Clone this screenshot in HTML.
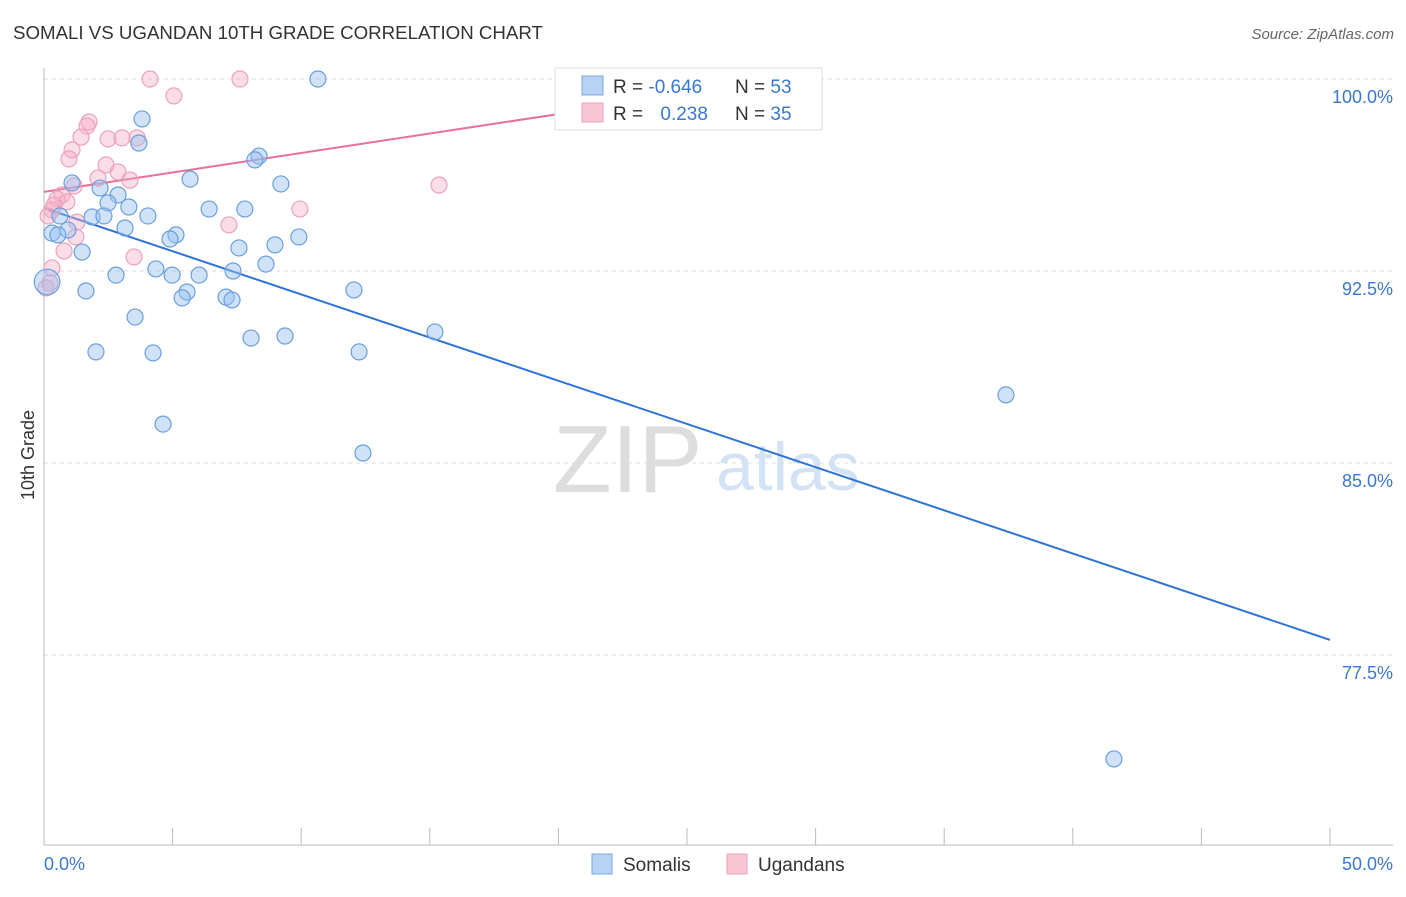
<!DOCTYPE html>
<html><head><meta charset="utf-8"><style>
body{margin:0;background:#fff;font-family:"Liberation Sans",sans-serif;}
svg text{font-family:"Liberation Sans",sans-serif;}
</style></head><body>
<svg id="chart" width="1406" height="892" viewBox="0 0 1406 892" xmlns="http://www.w3.org/2000/svg">
<text x="13" y="39" font-size="18.7" fill="#333">SOMALI VS UGANDAN 10TH GRADE CORRELATION CHART</text>
<text x="1394" y="39" font-size="15" fill="#666" text-anchor="end" font-style="italic">Source: ZipAtlas.com</text>
<g>
<text x="553" y="492" font-size="96" fill="#ddd" font-family="Liberation Serif">ZIP</text>
<text x="716" y="490" font-size="68" fill="#d4e2f5">atlas</text>
</g>
<g id="grid"></g>
<g id="axes"></g>
<g id="lines"></g>
<g id="points"></g>
<g>
<rect x="555" y="68" width="267" height="62" fill="#fff" stroke="#ddd"/>
<rect x="582" y="76" width="21" height="19" fill="#b8d2f3" stroke="#7aa8e3"/>
<rect x="582" y="103" width="21" height="19" fill="#f9c4d4" stroke="#eba3ba"/>
<text x="613" y="93" font-size="19" fill="#333">R = <tspan fill="#3a78d6">-0.646</tspan></text>
<text x="735" y="93" font-size="19" fill="#333">N = <tspan fill="#3a78d6">53</tspan></text>
<text x="613" y="120" font-size="19" fill="#333">R = <tspan fill="#3a78d6" dx="12">0.238</tspan></text>
<text x="735" y="120" font-size="19" fill="#333">N = <tspan fill="#3a78d6">35</tspan></text>
</g>
<g>
<rect x="592" y="854" width="20" height="20" fill="#b8d2f3" stroke="#7aa8e3"/>
<text x="623" y="871" font-size="19" fill="#333">Somalis</text>
<rect x="727" y="854" width="20" height="20" fill="#f9c4d4" stroke="#eba3ba"/>
<text x="758" y="871" font-size="19" fill="#333">Ugandans</text>
</g>
<text transform="translate(34,455) rotate(-90)" font-size="18" fill="#333" text-anchor="middle">10th Grade</text>
</svg>
<script>
const yTicks=[100,92.5,85,77.5];
const yTickLabels=["100.0%","92.5%","85.0%","77.5%"];
const xTickLabels=["0.0%","50.0%"];
const somaliX=[10.65,3.81,3.69,8.36,8.20,5.68,9.21,1.09,2.18,2.88,2.49,3.30,6.42,7.81,4.04,1.87,2.33,0.62,3.15,0.93,0.31,0.54,5.13,4.90,9.91,7.58,8.98,1.48,8.63,4.35,7.35,4.98,6.03,2.80,1.63,5.56,5.37,7.08,7.31,12.05,3.54,15.20,8.05,9.37,2.02,4.24,12.25,37.40,4.63,12.40,41.60,0.12];
const somaliY=[100.0,98.44,97.5,96.99,96.84,96.09,95.90,95.94,95.74,95.47,95.16,95.0,94.92,94.92,94.65,94.61,94.65,94.65,94.18,94.10,93.98,93.91,93.91,93.75,93.83,93.40,93.52,93.24,92.77,92.58,92.50,92.34,92.34,92.34,91.72,91.68,91.45,91.48,91.37,91.76,90.70,90.12,89.88,89.96,89.34,89.30,89.34,87.66,86.52,85.39,73.44,92.07];
const somaliSize=[1,1,1,1,1,1,1,1,1,1,1,1,1,1,1,1,1,1,1,1,1,1,1,1,1,1,1,1,1,1,1,1,1,1,1,1,1,1,1,1,1,1,1,1,1,1,1,1,1,1,1,1.6];
const ugandanX=[4.12,7.62,5.05,1.75,1.67,1.44,2.49,3.03,3.62,1.09,0.97,2.41,2.88,2.10,3.34,15.36,1.17,0.70,0.51,0.89,0.39,0.31,9.95,0.16,1.28,7.19,1.24,0.78,3.50,0.31,0.23,0.08];
const ugandanY=[100,100,99.34,98.32,98.16,97.73,97.66,97.70,97.70,97.23,96.88,96.64,96.37,96.13,96.05,95.86,95.82,95.47,95.31,95.20,95.08,94.88,94.92,94.65,94.41,94.30,93.83,93.28,93.05,92.62,92.03,91.84];
const somaliTrend=[94.96,78.09];
const ugandanTrend=[95.59,100.15];
const NS="http://www.w3.org/2000/svg";
const X0=44,X1=1330,Y100=79,PXY=25.6;
function sx(v){return X0+(X1-X0)*v/50;}
function sy(v){return Y100+(100-v)*PXY;}
function mk(tag,attrs,parent){const e=document.createElementNS(NS,tag);for(const k in attrs)e.setAttribute(k,attrs[k]);parent.appendChild(e);return e;}
const grid=document.getElementById('grid'),axes=document.getElementById('axes'),lines=document.getElementById('lines'),pts=document.getElementById('points');
yTicks.forEach((t,i)=>{
 const l=mk('line',{x1:X0,x2:1393,y1:sy(t),y2:sy(t),stroke:'#ddd','stroke-dasharray':'4,4'},grid);
 
 
 const tx=mk('text',{x:1393,y:sy(t)+24,'font-size':18,fill:'#3a78d6','text-anchor':'end'},axes);
 tx.textContent=yTickLabels[i];
 
 
});
const ya=mk('line',{x1:X0,x2:X0,y1:68,y2:845,stroke:'#bbb'},axes);


const xa=mk('line',{x1:X0,x2:1393,y1:845,y2:845,stroke:'#bbb'},axes);


for(let i=0;i<=10;i++){
 const t=mk('line',{x1:sx(i*5),x2:sx(i*5),y1:828,y2:845,stroke:'#bbb'},axes);
 
 
}
const xl0=mk('text',{x:44,y:870,'font-size':18,fill:'#3a78d6'},axes);xl0.textContent=xTickLabels[0];


const xl1=mk('text',{x:1393,y:870,'font-size':18,fill:'#3a78d6','text-anchor':'end'},axes);xl1.textContent=xTickLabels[1];


ugandanX.forEach((x,i)=>{
 const c=mk('circle',{cx:sx(x),cy:sy(ugandanY[i]),r:8,fill:'rgba(245,170,195,0.4)',stroke:'#eba3ba','stroke-width':1.2},pts);
 
 
});
somaliX.forEach((x,i)=>{
 const c=mk('circle',{cx:sx(x),cy:sy(somaliY[i]),r:8*somaliSize[i],fill:'rgba(150,190,240,0.45)',stroke:'#6a9fe0','stroke-width':1.2},pts);
 
 
});
const bl=mk('line',{x1:sx(0),y1:sy(somaliTrend[0]),x2:sx(50),y2:sy(somaliTrend[1]),stroke:'#2f74d8','stroke-width':2},lines);


const pl=mk('line',{x1:sx(0),y1:sy(ugandanTrend[0]),x2:sx(30),y2:sy(ugandanTrend[1]),stroke:'#e8709a','stroke-width':2},lines);


</script>
</body></html>
